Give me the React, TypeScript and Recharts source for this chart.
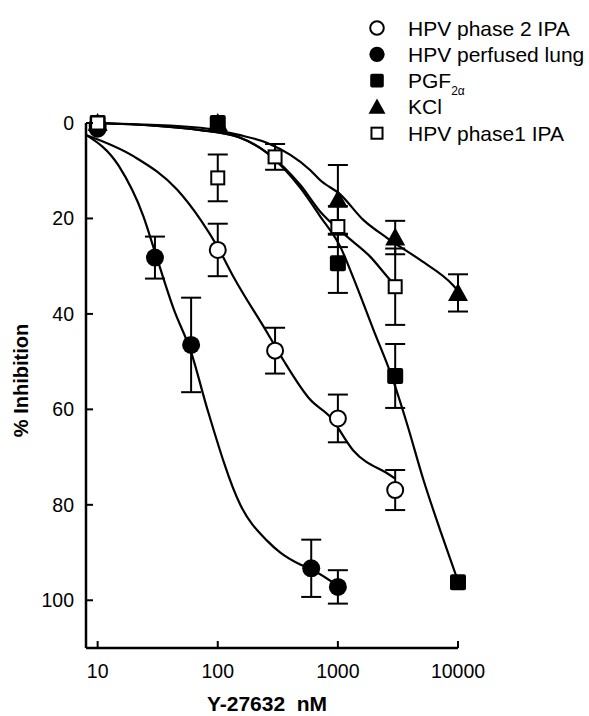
import { ComposedChart, Line, Scatter, XAxis, YAxis, ErrorBar, Legend } from "recharts";

const font = '"Liberation Sans", Arial, sans-serif';

const xTicks = [10, 100, 1000, 10000];
const yTicks = [0, 20, 40, 60, 80, 100];

// measured points: concentration (nM), % inhibition, error
const phase2Ipa = [
  { x: 10, y: 0.5, err: 0 },
  { x: 100, y: 26.6, err: 5.5 },
  { x: 300, y: 47.7, err: 4.8 },
  { x: 1000, y: 61.9, err: 5 },
  { x: 3000, y: 76.9, err: 4.2 },
];
const perfusedLung = [
  { x: 10, y: 1.2, err: 0 },
  { x: 30, y: 28.2, err: 4.4 },
  { x: 60, y: 46.5, err: 9.9 },
  { x: 600, y: 93.3, err: 6 },
  { x: 1000, y: 97.2, err: 3.5 },
];
const pgf2a = [
  { x: 10, y: 0, err: 0 },
  { x: 100, y: 0, err: 0 },
  { x: 1000, y: 29.4, err: 6.2 },
  { x: 3000, y: 53, err: 6.7 },
  { x: 10000, y: 96.2, err: 0 },
];
const kcl = [
  { x: 10, y: 0, err: 0 },
  { x: 100, y: 0, err: 0 },
  { x: 1000, y: 16.1, err: 7.3 },
  { x: 3000, y: 24, err: 3.5 },
  { x: 10000, y: 35.6, err: 3.9 },
];
const phase1Ipa = [
  { x: 10, y: 0, err: 0 },
  { x: 100, y: 11.5, err: 4.9 },
  { x: 300, y: 7.1, err: 2.7 },
  { x: 1000, y: 21.7, err: 4.3 },
  { x: 3000, y: 34.3, err: 8 },
];

// fitted curves
const phase2IpaFit = [
  { x: 8, y: 2.5 }, { x: 20, y: 7 }, { x: 46, y: 14 }, { x: 72, y: 20.3 },
  { x: 100, y: 26 }, { x: 135, y: 32.2 }, { x: 259, y: 44 }, { x: 352, y: 49.7 },
  { x: 590, y: 58 }, { x: 865, y: 61.6 }, { x: 1343, y: 68.6 }, { x: 2727, y: 73.8 },
  { x: 3000, y: 74.5 },
];
const perfusedLungFit = [
  { x: 8, y: 2.5 }, { x: 15, y: 9 }, { x: 24, y: 19.5 }, { x: 30, y: 27 },
  { x: 43, y: 39 }, { x: 60, y: 48 }, { x: 82, y: 60 }, { x: 154, y: 80 },
  { x: 257, y: 87.5 }, { x: 332, y: 90 }, { x: 486, y: 92.5 }, { x: 600, y: 93.5 },
  { x: 1000, y: 97 },
];
const pgf2aFit = [
  { x: 10, y: 0 }, { x: 72, y: 1.5 }, { x: 150, y: 3 }, { x: 259, y: 6.3 },
  { x: 487, y: 13.6 }, { x: 714, y: 19.6 }, { x: 1047, y: 25.9 }, { x: 1343, y: 32.4 },
  { x: 1982, y: 43.4 }, { x: 2818, y: 53.2 }, { x: 3750, y: 62.9 }, { x: 5160, y: 74.8 },
  { x: 7100, y: 85.3 }, { x: 10000, y: 96 },
];
const kclFit = [
  { x: 10, y: 0 }, { x: 72, y: 1 }, { x: 150, y: 2.5 }, { x: 259, y: 4.2 },
  { x: 590, y: 9.9 }, { x: 714, y: 12 }, { x: 1050, y: 15 }, { x: 1627, y: 20.3 },
  { x: 2575, y: 24.1 }, { x: 4842, y: 28.7 }, { x: 9100, y: 34 }, { x: 10000, y: 35.2 },
];
const phase1IpaFit = [
  { x: 10, y: 0 }, { x: 72, y: 1.5 }, { x: 150, y: 3 }, { x: 259, y: 6.3 },
  { x: 487, y: 13 }, { x: 714, y: 18.6 }, { x: 1153, y: 23.5 }, { x: 1857, y: 28 },
  { x: 2727, y: 32.9 }, { x: 3000, y: 34 },
];

const legendItems = [
  { name: "HPV phase 2 IPA", shape: "openCircle" },
  { name: "HPV perfused lung", shape: "circle" },
  { name: "PGF", sub: "2\u03b1", shape: "square" },
  { name: "KCl", shape: "triangle" },
  { name: "HPV phase1 IPA", shape: "openSquare" },
];

const marker = (shape: string, cx: number, cy: number, small = false) => {
  const k = small ? 0.85 : 1;
  switch (shape) {
    case "openCircle":
      return <circle cx={cx} cy={cy} r={8 * k} fill="#fff" stroke="#000" strokeWidth={2} />;
    case "circle":
      return <circle cx={cx} cy={cy} r={9 * k} fill="#000" />;
    case "square":
      return <rect x={cx - 8 * k} y={cy - 8 * k} width={16 * k} height={16 * k} rx={2} fill="#000" />;
    case "triangle":
      return (
        <polygon
          points={`${cx},${cy - 10 * k} ${cx + 10 * k},${cy + 8 * k} ${cx - 10 * k},${cy + 8 * k}`}
          fill="#000"
        />
      );
    default:
      return (
        <rect x={cx - 6.5 * k} y={cy - 6.5 * k} width={13 * k} height={13 * k} fill="#fff" stroke="#000" strokeWidth={2} />
      );
  }
};

const shapeFn = (shape: string) => (p: any) => marker(shape, p.cx, p.cy);

const XTick = (p: any) => (
  <g>
    <line x1={p.x} y1={p.y} x2={p.x} y2={p.y - 7} stroke="#000" strokeWidth={2} />
    <text x={p.x} y={p.y + 30} textAnchor="middle" fontSize={19.5} fontFamily={font} fill="#000">
      {p.payload.value}
    </text>
  </g>
);

const YTick = (p: any) => (
  <g>
    <line x1={p.x} y1={p.y} x2={p.x + 7} y2={p.y} stroke="#000" strokeWidth={2} />
    <text x={p.x - 12} y={p.y} dy="0.355em" textAnchor="end" fontSize={19.5} fontFamily={font} fill="#000">
      {p.payload.value}
    </text>
  </g>
);

const XLabel = (p: any) => {
  const vb = p.viewBox;
  return (
    <text
      x={vb.x + vb.width / 2 - 5}
      y={vb.y + 63}
      textAnchor="middle"
      fontSize={21}
      fontWeight="bold"
      fontFamily={font}
      style={{ whiteSpace: "pre" }}
      fill="#000"
    >
      {"Y-27632  nM"}
    </text>
  );
};

const YLabel = (p: any) => {
  const vb = p.viewBox;
  const cx = vb.x - 5;
  const cy = vb.y + vb.height / 2 - 5;
  return (
    <text
      x={cx}
      y={cy}
      dy="0.35em"
      transform={`rotate(-90, ${cx}, ${cy})`}
      textAnchor="middle"
      fontSize={20}
      fontWeight="bold"
      fontFamily={font}
      fill="#000"
    >
      % Inhibition
    </text>
  );
};

const renderLegend = () => (
  <svg width={224} height={150}>
    {legendItems.map((it, i) => {
      const cy = 28 + i * 26.3;
      return (
        <g key={it.name}>
          {marker(it.shape, 12, cy, true)}
          <text x={43} y={cy} dy="0.36em" fontSize={21} fontFamily={font} fill="#000">
            {it.name}
            {it.sub && (
              <tspan dy={7} fontSize={12}>
                {it.sub}
              </tspan>
            )}
          </text>
        </g>
      );
    })}
  </svg>
);

const fits = [phase2IpaFit, perfusedLungFit, kclFit, pgf2aFit, phase1IpaFit];
const series = [
  { data: phase2Ipa, shape: "openCircle" },
  { data: perfusedLung, shape: "circle" },
  { data: kcl, shape: "triangle" },
  { data: pgf2a, shape: "square" },
  { data: phase1Ipa, shape: "openSquare" },
];

export default function App() {
  return (
    <div style={{ position: "absolute", left: 0, top: 0, width: 589, height: 716, background: "#fff" }}>
      <ComposedChart width={589} height={716} margin={{ top: 123, right: 131, bottom: 18, left: 26 }}>
        <XAxis
          dataKey="x"
          type="number"
          scale="log"
          domain={[8, 10000]}
          ticks={xTicks}
          height={50}
          axisLine={{ stroke: "#000", strokeWidth: 2.5 }}
          tickLine={false}
          tickSize={0}
          tickMargin={0}
          tick={XTick}
          label={XLabel}
        />
        <YAxis
          dataKey="y"
          type="number"
          domain={[0, 110]}
          reversed
          ticks={yTicks}
          width={60}
          axisLine={{ stroke: "#000", strokeWidth: 2.5 }}
          tickLine={false}
          tickSize={0}
          tickMargin={0}
          tick={YTick}
          label={YLabel}
        />
        <Legend
          content={renderLegend}
          layout="vertical"
          align="center"
          verticalAlign="middle"
          wrapperStyle={{ position: "absolute", left: 365, top: 0, width: 224 }}
        />
        {fits.map((d, i) => (
          <Line
            key={"fit" + i}
            data={d}
            dataKey="y"
            type="monotone"
            stroke="#000"
            strokeWidth={2.2}
            dot={false}
            activeDot={false}
            isAnimationActive={false}
            legendType="none"
          />
        ))}
        {series.map((s, i) => (
          <Scatter
            key={"pts" + i}
            data={s.data}
            dataKey="y"
            shape={shapeFn(s.shape)}
            isAnimationActive={false}
            legendType="none"
          >
            <ErrorBar dataKey="err" direction="y" width={10} strokeWidth={2} stroke="#000" />
          </Scatter>
        ))}
      </ComposedChart>
    </div>
  );
}
